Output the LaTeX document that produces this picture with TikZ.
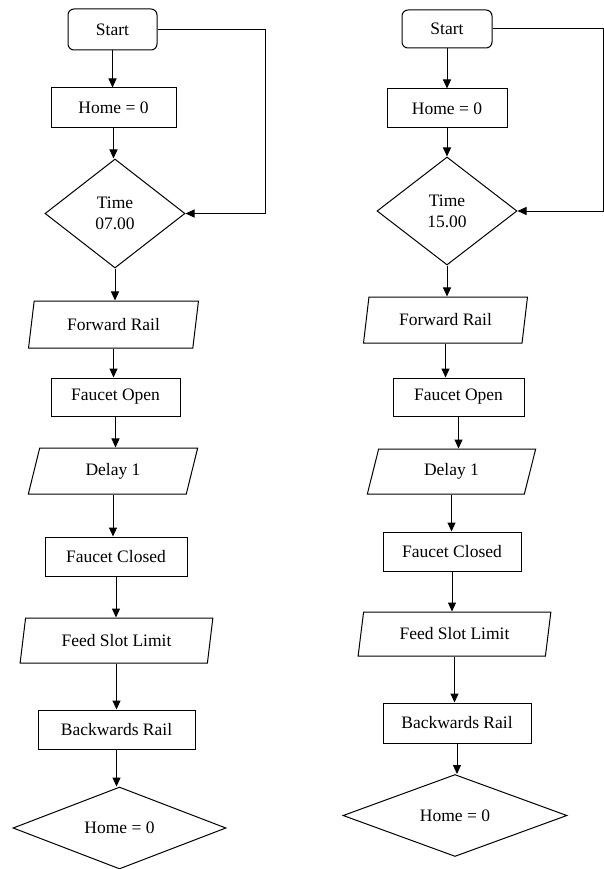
\documentclass[tikz,border=0pt]{standalone}
\usepackage{fontspec}
\setmainfont{Liberation Serif}
\usetikzlibrary{arrows.meta,shapes.geometric}

\begin{document}
\begin{tikzpicture}[x=1pt,y=-1pt,->,>={Triangle[length=9pt,width=8pt]},line width=1pt,
                term/.style={draw=black,rectangle,rounded corners=6pt,inner sep=0pt,font=\fontsize{17.5}{20}\selectfont},
                proc/.style={draw=black,rectangle,inner sep=0pt,font=\fontsize{17.5}{20}\selectfont},
                io/.style={draw=black,trapezium,trapezium left angle=75,trapezium right angle=105,trapezium stretches=true,inner sep=0pt,font=\fontsize{17.5}{20}\selectfont},
                dec/.style={draw=black,diamond,align=center,inner sep=0pt,font=\fontsize{17.5}{21}\selectfont}]
                \useasboundingbox (0, 0) rectangle (604, 869);
                % morning feed (left)
                \node[term,minimum width=89pt,minimum height=41pt](startL)at(112.5, 29.5){Start};
                \node[proc,minimum width=125pt,minimum height=40pt](homeL)at(113.5, 108){Home = 0};
                \node[dec,minimum width=140pt,minimum height=109pt](timeL)at(115, 213.5){Time\\07.00};
                \node[io,minimum width=171pt,minimum height=47pt](fwdL)at(113.5, 324.5){Forward Rail};
                \node[proc,minimum width=129pt,minimum height=38pt](fopL)at(115.5, 397){Faucet Open};
                \node[io,minimum width=170pt,minimum height=46pt](dlyL)at(113, 471){Delay 1};
                \node[proc,minimum width=142pt,minimum height=39pt](fclL)at(116, 556.5){Faucet Closed};
                \node[io,minimum width=193pt,minimum height=45pt](feedL)at(116.5, 640.5){Feed Slot Limit};
                \node[proc,minimum width=157pt,minimum height=39pt](backL)at(116.5, 729.5){Backwards Rail};
                \node[dec,minimum width=213pt,minimum height=80pt](endL)at(119.5, 828){Home = 0};
                \coordinate(loopL)at(265, 0);
                % afternoon feed (right)
                \node[term,minimum width=90pt,minimum height=38pt](startR)at(447, 29){Start};
                \node[proc,minimum width=120pt,minimum height=39pt](homeR)at(447, 108.5){Home = 0};
                \node[dec,minimum width=140pt,minimum height=108pt](timeR)at(447, 211){Time\\15.00};
                \node[io,minimum width=165pt,minimum height=46pt](fwdR)at(445.5, 320){Forward Rail};
                \node[proc,minimum width=131pt,minimum height=38pt](fopR)at(458.5, 397){Faucet Open};
                \node[io,minimum width=169pt,minimum height=45pt](dlyR)at(451.5, 471.5){Delay 1};
                \node[proc,minimum width=138pt,minimum height=39pt](fclR)at(452, 551.5){Faucet Closed};
                \node[io,minimum width=193pt,minimum height=44pt](feedR)at(454.5, 634){Feed Slot Limit};
                \node[proc,minimum width=148pt,minimum height=40pt](backR)at(457, 723){Backwards Rail};
                \node[dec,minimum width=224pt,minimum height=67pt](endR)at(455, 815.5){Home = 0};
                \coordinate(loopR)at(603, 0);
                \foreach \s in {L,R}{
                    \path[](start\s.south) edge (start\s.south |- home\s.north)
                    (home\s.south) edge (home\s.south |- time\s.north)
                    (time\s.south) edge (time\s.south |- fwd\s.north)
                    (fwd\s.south) edge (fwd\s.south |- fop\s.north)
                    (fop\s.south) edge (fop\s.south |- dly\s.north)
                    (dly\s.south) edge (dly\s.south |- fcl\s.north)
                    (fcl\s.south) edge (fcl\s.south |- feed\s.north)
                    (feed\s.south) edge (feed\s.south |- back\s.north)
                    (back\s.south) edge (back\s.south |- end\s.north);
                    \draw[](start\s.east) -- (start\s.east -| loop\s) |- (time\s.east);
                }
            \end{tikzpicture}
\end{document}
